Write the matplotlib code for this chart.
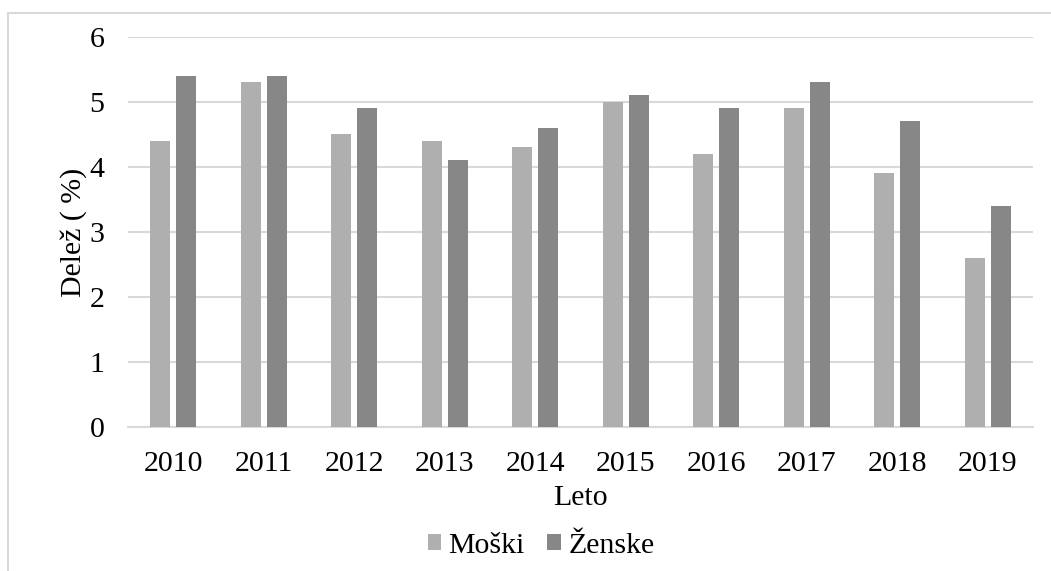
import matplotlib
matplotlib.use("Agg")
import matplotlib.pyplot as plt
from matplotlib.patches import Rectangle
import numpy as np

plt.rcParams["font.family"] = ["Liberation Serif", "DejaVu Serif"]

years = ["2010", "2011", "2012", "2013", "2014", "2015", "2016", "2017", "2018", "2019"]
moski = [4.4, 5.3, 4.5, 4.4, 4.3, 5.0, 4.2, 4.9, 3.9, 2.6]
zenske = [5.4, 5.4, 4.9, 4.1, 4.6, 5.1, 4.9, 5.3, 4.7, 3.4]

C_M = "#afafaf"
C_Z = "#878787"
GRID = "#d9d9d9"
FS = 21.5

fig = plt.figure(figsize=(10.51, 5.71), dpi=100)
ax = fig.add_axes([0.1218, 0.2522, 0.983 - 0.1218, 0.9352 - 0.2522])

# chart frame (runs off the right and bottom edges)
fig.patches.append(Rectangle((7.5 / 1051, -0.1), 1.2, 1 - 13 / 571 + 0.1,
                             transform=fig.transFigure, fill=False,
                             ec=GRID, lw=1.5, zorder=0))

x = np.arange(len(years))
w = 0.22
off = 0.143
ax.bar(x - off, moski, w, color=C_M, label="Moški", zorder=3)
ax.bar(x + off, zenske, w, color=C_Z, label="Ženske", zorder=3)

ax.set_xlim(-0.5, len(years) - 0.5)
ax.set_ylim(0, 6)
ax.set_yticks(range(7))
ax.set_xticks(x)
ax.set_xticklabels(years)
ax.yaxis.grid(True, color=GRID, lw=1.5)
ax.set_axisbelow(True)
for s in ["top", "right", "left"]:
    ax.spines[s].set_visible(False)
ax.spines["bottom"].set_color(GRID)
ax.spines["bottom"].set_linewidth(1.5)
ax.tick_params(axis="both", length=0, labelsize=FS)
ax.tick_params(axis="y", pad=17)
ax.tick_params(axis="x", pad=17)

ax.set_ylabel("Delež ( %)", fontsize=FS, labelpad=2)
ax.set_xlabel("Leto", fontsize=FS, labelpad=6)

leg = fig.legend(loc="center", ncol=2, frameon=False,
                 fontsize=FS, handlelength=0.45, handleheight=0.45, handletextpad=0.25,
                 columnspacing=0.75)
leg.set_bbox_to_anchor((541 / 1051, 1 - 546 / 571), transform=fig.transFigure)

fig.savefig("out.png", dpi=100)
